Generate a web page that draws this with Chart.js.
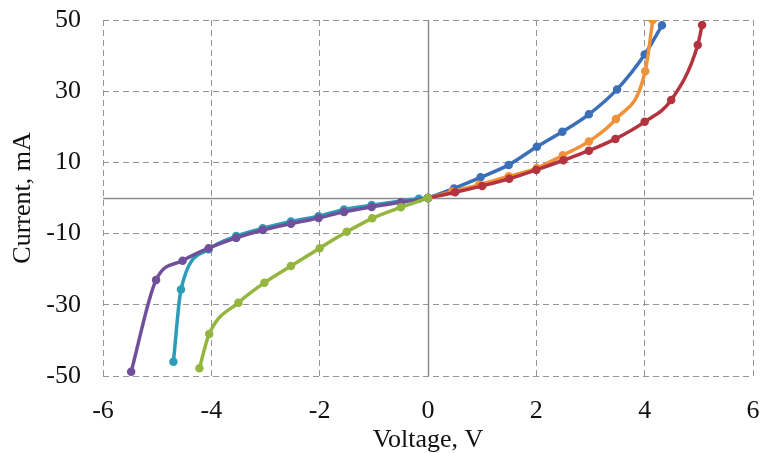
<!DOCTYPE html>
<html>
<head>
<meta charset="utf-8">
<script src="https://cdn.jsdelivr.net/npm/chart.js@4.4.1/dist/chart.umd.min.js"></script>
<style>
  html, body { margin: 0; padding: 0; background: #fff; }
  #wrap { width: 762px; height: 453px; }
</style>
</head>
<body>
<div id="wrap"><canvas id="iv"></canvas></div>
<script>
// x ticks / y ticks
const xTicks = [-6, -4, -2, 0, 2, 4, 6];
const yTicks = [-50, -30, -10, 10, 30, 50];

// forward branches (voltage V, current mA)
const blueV = [0, 0.48, 0.97, 1.49, 2.01, 2.48, 2.97, 3.49, 4.0, 4.32];
const blueI = [0, 2.7, 5.8, 9.3, 14.4, 18.6, 23.5, 30.5, 40.3, 48.5];

const redV = [0, 0.5, 1.0, 1.5, 2.0, 2.5, 2.97, 3.46, 4.0, 4.49, 4.98, 5.06];
const redI = [0, 1.6, 3.4, 5.4, 7.9, 10.6, 13.3, 16.6, 21.4, 27.5, 43, 48.6];

const orangeV = [0, 0.45, 0.94, 1.49, 2.01, 2.49, 2.97, 3.47, 4.01, 4.15];
const orangeI = [0, 1.8, 3.7, 6.1, 8.4, 12.0, 15.9, 22.2, 35.6, 50];

// reverse branches
const purpleV = [-5.48, -5.02, -4.53, -4.05, -3.54, -3.05, -2.53, -2.02, -1.55, -1.04, -0.5, 0];
const purpleI = [-48.8, -23, -17.6, -14.1, -11.2, -9.0, -7.2, -5.6, -3.9, -2.5, -1.2, 0];

const tealV = [-4.7, -4.56, -4.05, -3.54, -3.05, -2.53, -2.02, -1.55, -1.04, -0.17, 0];
const tealI = [-46, -25.7, -14.4, -10.7, -8.5, -6.6, -5.1, -3.2, -2.0, -0.2, 0];

const greenV = [-4.22, -4.04, -3.5, -3.02, -2.53, -2.0, -1.5, -1.03, -0.5, 0];
const greenI = [-47.8, -38.2, -29.4, -23.8, -19.1, -14.1, -9.5, -5.7, -2.6, 0];

const pts = (xs, ys) => xs.map((x, i) => ({ x: x, y: ys[i] }));

function series(xs, ys, color) {
    return {
        data: pts(xs, ys),
        borderColor: color,
        backgroundColor: color,
        borderWidth: 3.5,
        pointRadius: 2.5,
        pointHoverRadius: 2.5,
        cubicInterpolationMode: 'monotone',
        showLine: true,
        fill: false
    };
}

// solid axes through zero
const zeroAxes = {
    id: 'zeroAxes',
    beforeDatasetsDraw(chart) {
        const { ctx, chartArea: a, scales } = chart;
        const x0 = Math.round(scales.x.getPixelForValue(0)) + 0.5;
        const y0 = Math.round(scales.y.getPixelForValue(0)) + 0.5;
        ctx.save();
        ctx.strokeStyle = '#8c8c8c';
        ctx.lineWidth = 1.5;
        ctx.beginPath();
        ctx.moveTo(x0, a.top);
        ctx.lineTo(x0, a.bottom);
        ctx.moveTo(a.left, y0);
        ctx.lineTo(a.right, y0);
        ctx.stroke();
        ctx.restore();
    }
};

const font = { family: 'Liberation Serif', size: 26 };

const config = {
    type: 'scatter',
    data: {
        datasets: [
            series(greenV, greenI, '#95b63e'),
            series(purpleV, purpleI, '#71509b'),
            series(tealV, tealI, '#2b9db8'),
            series(redV, redI, '#b3333f'),
            series(orangeV, orangeI, '#f1923a'),
            series(blueV, blueI, '#3b6fb8')
        ]
    },
    options: {
        responsive: true,
        maintainAspectRatio: false,
        animation: false,
        layout: { padding: { top: 20, right: 9, left: 0, bottom: 0 } },
        plugins: {
            legend: { display: false },
            tooltip: { enabled: false }
        },
        scales: {
            x: {
                type: 'linear',
                min: -6,
                max: 6,
                afterBuildTicks: (s) => { s.ticks = xTicks.map(v => ({ value: v })); },
                afterFit: (s) => { s.height = 77; s.paddingLeft = 0; s.paddingRight = 0; },
                grid: {
                    drawTicks: false,
                    color: (c) => c.tick && c.tick.value === 0 ? 'rgba(0,0,0,0)' : '#949494',
                    lineWidth: 1
                },
                border: { display: false, dash: [6, 4] },
                ticks: { font: font, color: '#111', padding: 20, maxRotation: 0 },
                title: { display: true, text: 'Voltage, V', font: font, color: '#111', padding: { top: 4, bottom: -3 } }
            },
            y: {
                type: 'linear',
                min: -50,
                max: 50,
                afterBuildTicks: (s) => { s.ticks = yTicks.map(v => ({ value: v })); },
                afterFit: (s) => { s.width = 103; s.paddingTop = 0; s.paddingBottom = 0; },
                grid: {
                    drawTicks: false,
                    color: '#949494',
                    lineWidth: 1
                },
                border: { display: false, dash: [6, 4] },
                ticks: { font: font, color: '#111', padding: 22 },
                title: { display: true, text: 'Current, mA', font: font, color: '#111', padding: 8 }
            }
        }
    },
    plugins: [zeroAxes]
};

new Chart(document.getElementById('iv'), config);
</script>
</body>
</html>
